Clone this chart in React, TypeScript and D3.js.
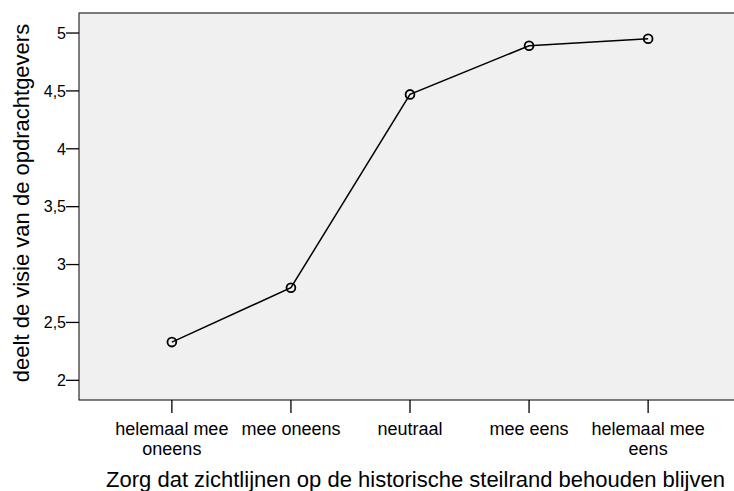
import React from "react";
import * as d3 from "d3";

const categories = ["helemaal mee oneens", "mee oneens", "neutraal", "mee eens", "helemaal mee eens"];
const categoryLines = [["helemaal mee", "oneens"], ["mee oneens"], ["neutraal"], ["mee eens"], ["helemaal mee", "eens"]];
const values = [2.33, 2.80, 4.47, 4.89, 4.95];
const yTicks = [2, 2.5, 3, 3.5, 4, 4.5, 5];
const yTickLabels = ["2", "2,5", "3", "3,5", "4", "4,5", "5"];
const xTitle = "Zorg dat zichtlijnen op de historische steilrand behouden blijven";
const yTitle = "deelt de visie van de opdrachtgevers";

export default function App() {
  const W = 734, H = 491;
  const left = 79, right = 741, top = 13, bottom = 400;
  const y = d3.scaleLinear().domain([1.830, 5.173]).range([bottom, top]);
  const x = d3.scalePoint<string>().domain(categories).range([left, right]).padding(0.78);
  const line = d3.line<number>().x((_, i) => x(categories[i])!).y(d => y(d));
  const font = "Liberation Sans, Arial, sans-serif";
  return (
    <svg width={W} height={H} style={{ position: "absolute", left: 0, top: 0 }} fontFamily={font}>
      <rect x={0} y={0} width={W} height={H} fill="#fff" />
      <rect x={left} y={top} width={right - left} height={bottom - top} fill="#f0f0f0" stroke="#000" strokeWidth={1} />
      <line x1={left} x2={right} y1={top} y2={top} stroke="#777" strokeWidth={1.2} />
      {yTicks.map((t, i) => (
        <g key={t}>
          <line x1={left - 13} x2={left} y1={y(t)} y2={y(t)} stroke="#000" strokeWidth={1.3} />
          <text x={left - 13} y={y(t)} dy="0.36em" textAnchor="end" fontSize={16}>{yTickLabels[i]}</text>
        </g>
      ))}
      {categories.map((c, i) => (
        <g key={c}>
          <line x1={x(c)!} x2={x(c)!} y1={bottom} y2={bottom + 13} stroke="#000" strokeWidth={1.3} />
          <text x={x(c)!} y={435} textAnchor="middle" fontSize={18}>
            {categoryLines[i].map((l, j) => (
              <tspan key={j} x={x(c)!} dy={j === 0 ? 0 : 20}>{l}</tspan>
            ))}
          </text>
        </g>
      ))}
      <path d={line(values)!} fill="none" stroke="#000" strokeWidth={1.5} />
      {values.map((v, i) => (
        <circle key={i} cx={x(categories[i])!} cy={y(v)} r={4.4} fill="none" stroke="#000" strokeWidth={1.8} />
      ))}
      <text x={415.5} y={487} textAnchor="middle" fontSize={22}>{xTitle}</text>
      <text transform={`translate(29, 203) rotate(-90)`} textAnchor="middle" fontSize={22}>{yTitle}</text>
    </svg>
  );
}
